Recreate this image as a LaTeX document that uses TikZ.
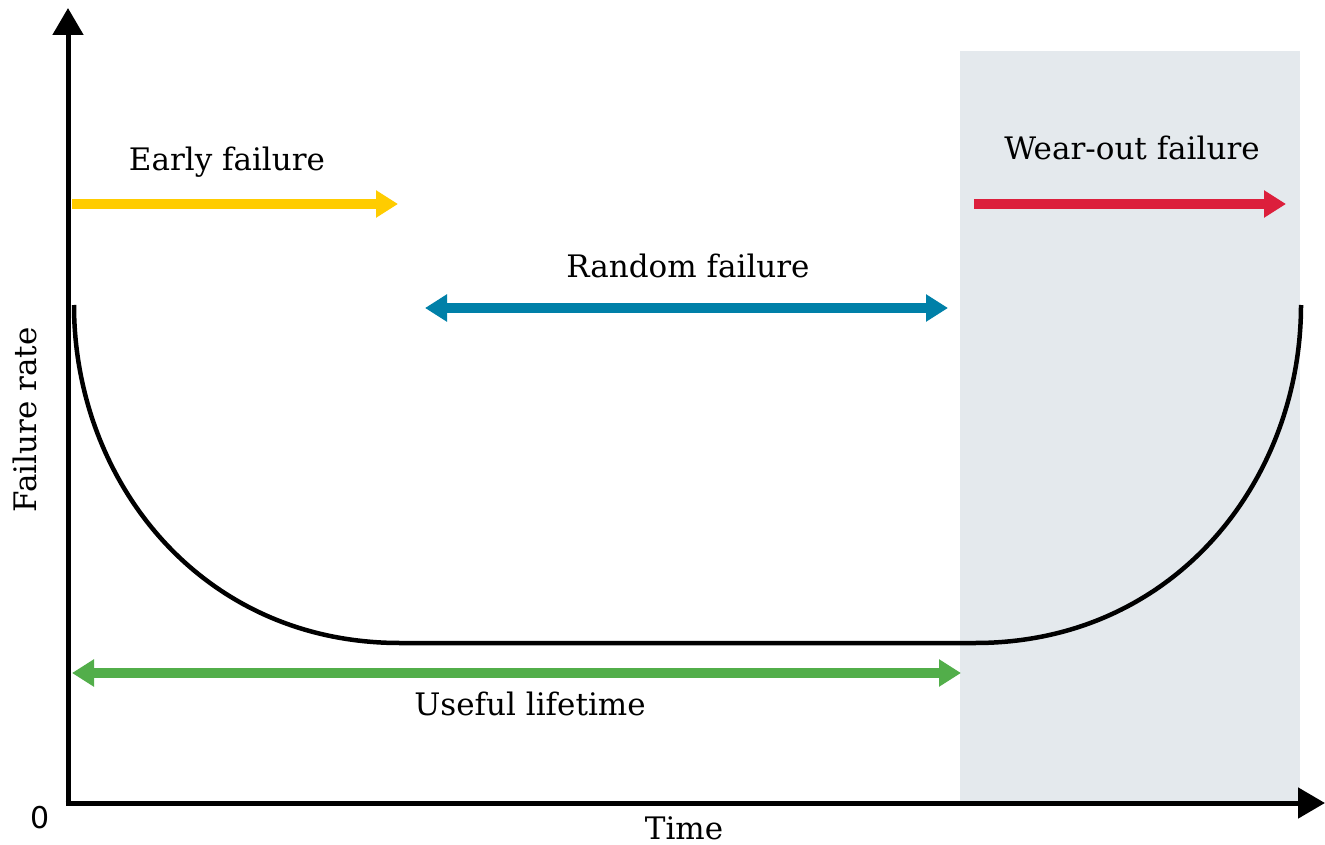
\documentclass[tikz,border=0pt]{standalone}
\usepackage{fontspec}
\setmainfont{DejaVu Serif}
\newfontfamily\zerofont{DejaVu Sans}
\usetikzlibrary{arrows.meta}
\definecolor{cyellow}{HTML}{FFCC00}
\definecolor{cred}{HTML}{DC1F3C}
\definecolor{cblue}{HTML}{0080A8}
\definecolor{cgreen}{HTML}{52AE4A}
\definecolor{cgray}{HTML}{E4E9ED}
\tikzset{
  axisline/.style={line width=5pt,-{Triangle[length=27pt,width=30pt]}},
  phasearrow/.style={line width=10pt,-{Triangle[length=22pt,width=26pt]}},
  phasedouble/.style={line width=10pt,{Triangle[length=22pt,width=26pt]}-{Triangle[length=22pt,width=26pt]}},
  lbl/.style={font=\fontsize{31}{36}\selectfont,inner sep=0pt},
  curveline/.style={line width=4.5pt}
}
\begin{document}
\begin{tikzpicture}[x=1pt,y=-1pt]
\useasboundingbox (0,0) rectangle (1325,845);
\fill[cgray] (960,51) rectangle (1300,803);
% axes
\coordinate (o) at (68,803);
\coordinate (ytip) at (68,8);
\coordinate (xtip) at (1325,803);
\draw[axisline] (68,805.5) -- (ytip);
\draw[axisline] (65.5,803) -- (xtip);
% curve
\coordinate (c0) at (74,305);
\coordinate (c1) at (400,643);
\coordinate (c2) at (975,643);
\coordinate (c3) at (1301,305);
\draw[curveline] (c0) .. controls (74,480) and (200,643) .. (c1) -- (c2) .. controls (1175,643) and (1301,480) .. (c3);
% arrows
\coordinate (ya) at (72,204); \coordinate (yb) at (398,204);
\draw[phasearrow,cyellow] (ya) -- (yb);
\coordinate (ra) at (974,204); \coordinate (rb) at (1286,204);
\draw[phasearrow,cred] (ra) -- (rb);
\coordinate (ba) at (425,308); \coordinate (bb) at (948,308);
\draw[phasedouble,cblue] (ba) -- (bb);
\coordinate (ga) at (72,673); \coordinate (gb) at (961,673);
\draw[phasedouble,cgreen] (ga) -- (gb);
% labels
\node[lbl] (early) at (227,162) {Early failure};
\node[lbl] (wear) at (1132,148) {Wear-out failure};
\node[lbl] (random) at (688,266) {Random failure};
\node[lbl] (useful) at (530,704) {Useful lifetime};
\node[lbl,rotate=90] (frate) at (25,420) {Failure rate};
\node[lbl] (time) at (684,828) {Time};
\node[lbl,font=\zerofont\fontsize{30}{34}\selectfont] (zero) at (40,818) {0};
\end{tikzpicture}
\end{document}
